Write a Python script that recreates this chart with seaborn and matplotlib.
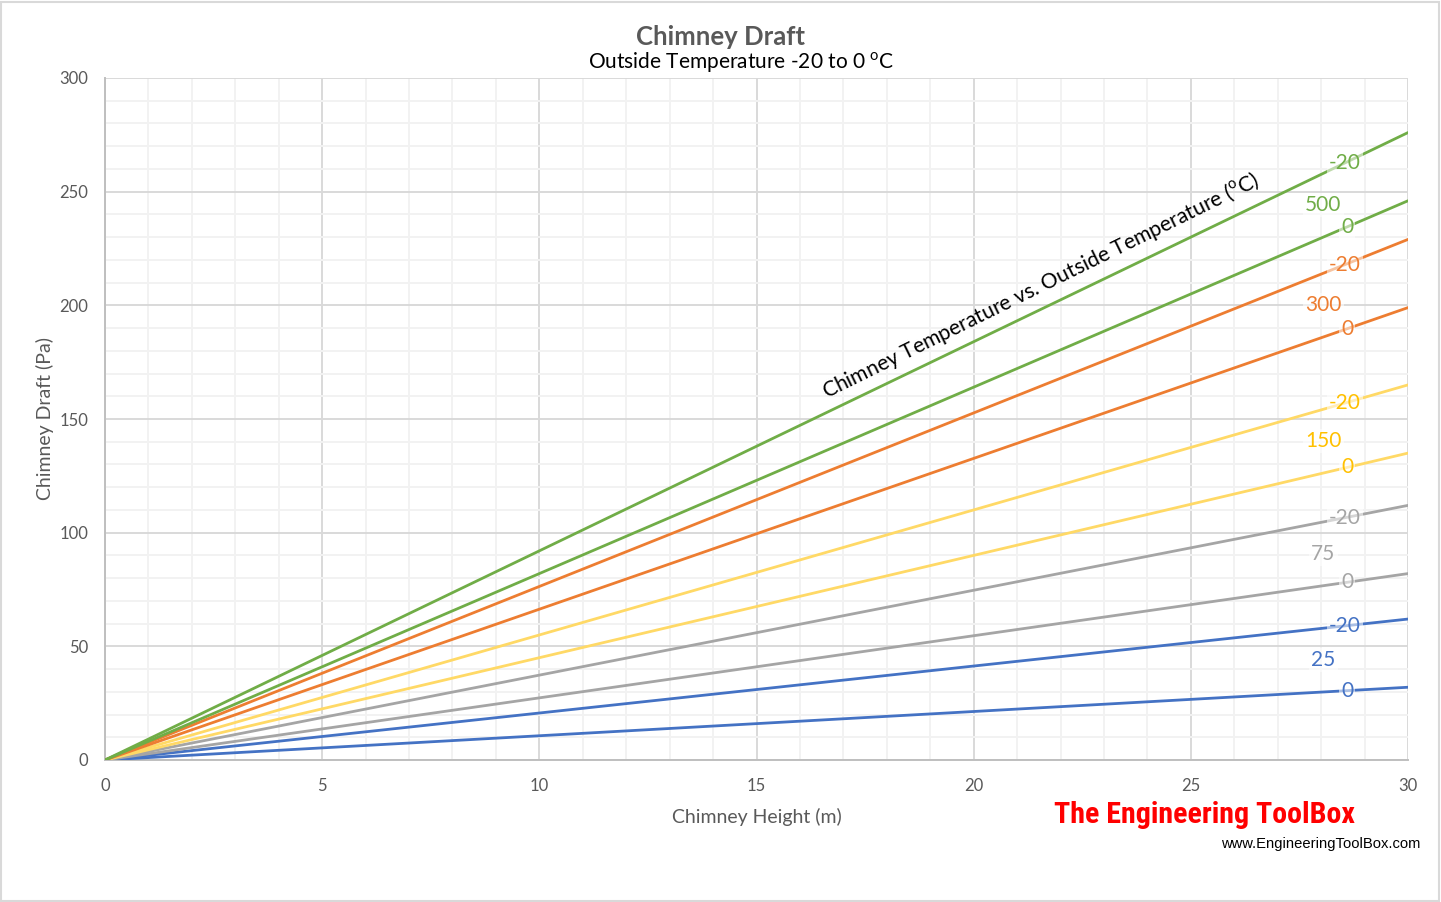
import matplotlib
matplotlib.use("Agg")
import matplotlib.pyplot as plt
import seaborn as sns
import pandas as pd
from matplotlib.ticker import MultipleLocator
from matplotlib.patches import Rectangle
from matplotlib import font_manager

# ---------------- data ----------------
chimney_temps = [25, 75, 150, 300, 500]          # chimney temperature (C)
outside_temps = [-20, 0]                          # outside temperature (C)
heights = [0, 30]                                 # chimney height (m)
draft_at_30m_minus20 = [62, 112, 165, 229, 276]  # Pa at 30 m, outside -20 C
draft_at_30m_zero = [32, 82, 135, 199, 246]       # Pa at 30 m, outside 0 C
line_colors = ["#4472C4", "#A5A5A5", "#FFD966", "#ED7D31", "#70AD47"]
text_colors = ["#4472C4", "#A5A5A5", "#FFC000", "#ED7D31", "#70AD47"]

rows = []
for ct, d20, d0 in zip(chimney_temps, draft_at_30m_minus20, draft_at_30m_zero):
    for ot, dend in ((-20, d20), (0, d0)):
        for h in heights:
            rows.append({"series": f"{ct}/{ot}", "Height": h,
                         "Draft": dend * h / heights[-1]})
df = pd.DataFrame(rows)
order = [f"{ct}/{ot}" for ct in chimney_temps for ot in outside_temps]
palette = {f"{ct}/{ot}": c for ct, c in zip(chimney_temps, line_colors) for ot in outside_temps}

# ---------------- style ----------------
sns.set_theme(style="white")
plt.rcParams["font.family"] = ["Lato", "DejaVu Sans"]
plt.rcParams["mathtext.fontset"] = "custom"
plt.rcParams["mathtext.rm"] = "Lato"

fig = plt.figure(figsize=(14.41, 9.02), dpi=100)
ax = fig.add_axes([105 / 1441, 1 - 760 / 902, (1408 - 105) / 1441, (760 - 78) / 902])

sns.lineplot(data=df, x="Height", y="Draft", hue="series", hue_order=order,
             palette=palette, linewidth=2.0, legend=False, ax=ax, zorder=3)

ax.set_xlim(0, 30)
ax.set_ylim(0, 300)
ax.xaxis.set_major_locator(MultipleLocator(5))
ax.xaxis.set_minor_locator(MultipleLocator(1))
ax.yaxis.set_major_locator(MultipleLocator(50))
ax.yaxis.set_minor_locator(MultipleLocator(10))
ax.grid(which="major", color="#D9D9D9", linewidth=1.4, zorder=1)
ax.grid(which="minor", color="#F2F2F2", linewidth=1.4, zorder=0)
ax.set_axisbelow(True)
for s in ["top", "right"]:
    ax.spines[s].set_visible(False)
for s in ["left", "bottom"]:
    ax.spines[s].set_color("#BFBFBF")
    ax.spines[s].set_linewidth(1.4)
ax.tick_params(which="both", length=0)
ax.tick_params(axis="x", pad=13, labelsize=12, labelcolor="#595959")
ax.tick_params(axis="y", pad=12, labelsize=12, labelcolor="#595959")

ax.set_xlabel("Chimney Height (m)", fontsize=14, color="#595959", labelpad=10)
ax.set_ylabel("Chimney Draft (Pa)", fontsize=14, color="#595959", labelpad=4)

# ---------------- titles ----------------
fig.text(720 / 1441, 1 - 37 / 902, "Chimney Draft", ha="center", va="center",
         fontsize=18.5, fontweight="bold", color="#595959")
fig.text(741 / 1441, 1 - 63 / 902, r"Outside Temperature -20 to 0 $^\mathrm{o}$C",
         ha="center", va="center", fontsize=15, color="black")

# ---------------- line labels ----------------
bbox = dict(facecolor="white", alpha=0.55, edgecolor="none", pad=1.5)
xe = heights[-1]
for ct, d20, d0, tc in zip(chimney_temps, draft_at_30m_minus20, draft_at_30m_zero, text_colors):
    ax.text(28.55, d20 * 28.55 / xe, "-20", ha="center", va="center",
            fontsize=15, color=tc, bbox=bbox, zorder=5)
    ax.text(28.6, d0 * 28.6 / xe, "0", ha="center", va="center",
            fontsize=15, color=tc, bbox=bbox, zorder=5)
    ax.text(28.05, (d20 + d0) / 2 * 28.05 / xe, str(ct), ha="center", va="center",
            fontsize=15, color=tc, bbox=bbox, zorder=5)

ax.text(21.55, 208.5, r"Chimney Temperature vs. Outside Temperature ($^\mathrm{o}$C)",
        rotation=26.2, rotation_mode="anchor", ha="center", va="center",
        fontsize=15.2, color="black", zorder=6)

# ---------------- watermark ----------------
names = {f.name for f in font_manager.fontManager.ttflist}
wm_family = None
for cand in ["Liberation Sans Narrow", "DejaVu Sans Condensed", "Roboto Condensed", "Open Sans Condensed"]:
    if cand in names:
        wm_family = cand
        break
if wm_family is None:
    wm_kw = dict(family=["DejaVu Sans"], fontstretch="condensed", fontsize=21)
else:
    wm_kw = dict(family=[wm_family, "DejaVu Sans"], fontsize=26 if "Narrow" in wm_family else 21.6)
fig.text(1205 / 1441, 1 - 815 / 902, "The Engineering ToolBox", ha="center", va="center",
         fontweight="bold", color="#FF0000", **wm_kw)
fig.text(1321 / 1441, 1 - 844 / 902, "www.EngineeringToolBox.com", ha="center", va="center",
         fontsize=10.6, color="black", family=["Liberation Sans", "DejaVu Sans"])

# figure border
fig.patches.append(Rectangle((1 / 1441, 1 / 902), 1 - 3 / 1441, 1 - 3 / 902,
                             transform=fig.transFigure, fill=False,
                             edgecolor="#D9D9D9", linewidth=1.5))

fig.savefig("out.png", dpi=100)
